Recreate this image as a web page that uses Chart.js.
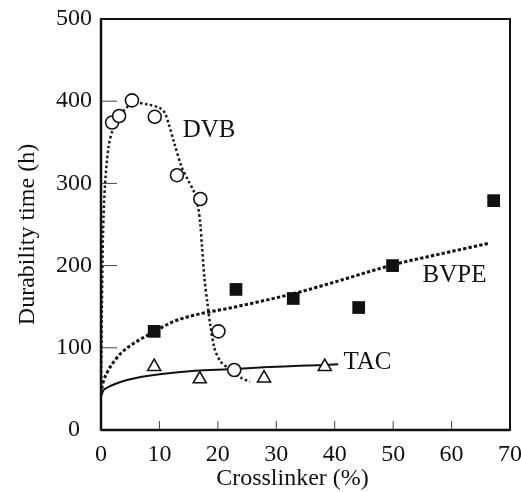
<!DOCTYPE html>
<html>
<head>
<meta charset="utf-8">
<script src="https://cdn.jsdelivr.net/npm/chart.js@4"></script>
<style>
html, body { margin: 0; padding: 0; background: #fff; }
</style>
</head>
<body>
<canvas id="chart" width="521" height="492"></canvas>
<script>
// axis ticks
const xTicks = [0, 10, 20, 30, 40, 50, 60, 70];
const yTicks = [0, 100, 200, 300, 400, 500];
const seriesNames = ["DVB", "BVPE", "TAC"];

// measured points
const dvbX = [1.9, 3.1, 5.3, 9.2, 13.0, 17.0, 20.1, 22.8];
const dvbY = [374, 382, 401, 381, 310, 281, 120, 73];
const bvpeX = [9.1, 23.1, 32.9, 44.1, 49.9, 67.2];
const bvpeY = [120, 171, 160, 149, 200, 279];
const tacX = [9.1, 16.9, 27.9, 38.3];
const tacY = [77, 62, 63, 77];

// hand-drawn trend curves
const dvbCurveX = [0, 0.15, 0.35, 0.7, 1.3, 2, 3, 4.5, 6, 8, 10, 10.9, 11.6, 12.5, 13.8, 14.9, 15.9, 16.6, 17.0, 17.3, 17.7, 18.2, 18.7, 19.4, 20.4, 22, 24.1, 25.5];
const dvbCurveY = [45, 150, 240, 300, 345, 365, 380, 393, 398, 396, 392, 386, 372, 350, 320, 304, 290, 272, 250, 222, 185, 155, 128, 100, 84, 74, 63, 59];
const bvpeCurveX = [0.1, 0.4, 1.2, 2.4, 3.5, 4.7, 6.4, 9, 12.1, 16.1, 21.8, 27, 33, 40, 50, 58.6, 66.3];
const bvpeCurveY = [50, 59, 72, 85, 94, 101, 109, 119, 131, 140, 148, 156, 166, 180, 201, 215, 227];
const tacCurveX = [0, 0.4, 1.2, 2.4, 4, 5.8, 10.4, 16.1, 21.8, 27.2, 33, 38.3, 40.6];
const tacCurveY = [41, 48, 52, 56, 60, 63, 68, 72, 74, 76, 78, 79, 80];

// where the series names sit, in data units
const nameX = [18.5, 60.5, 45.6];
const nameY = [364, 188, 82];

const pts = (xs, ys) => xs.map((v, i) => ({ x: v, y: ys[i] }));
const serif = '"Liberation Serif", "Times New Roman", serif';

const decor = {
    id: "decor",
    afterDraw(chart) {
        const { ctx, chartArea: a, scales: { x, y } } = chart;
        ctx.save();
        const line = (x1, y1, x2, y2) => {
            ctx.beginPath();
            ctx.moveTo(x1, y1);
            ctx.lineTo(x2, y2);
            ctx.stroke();
        };
        // inward ticks
        ctx.strokeStyle = "#444";
        ctx.lineWidth = 1;
        xTicks.forEach(v => {
            const px = x.getPixelForValue(v);
            line(px, a.bottom, px, a.bottom - 9);
        });
        yTicks.forEach(v => {
            const py = y.getPixelForValue(v);
            line(a.left, py, a.left + 16, py);
        });
        // frame
        ctx.strokeStyle = "#111";
        ctx.lineWidth = 2;
        ctx.strokeRect(a.left, a.top, a.right - a.left, a.bottom - a.top);
        ctx.lineWidth = 2.5;
        line(a.left, a.top, a.left, a.bottom);
        line(a.left, a.bottom, a.right, a.bottom);

        ctx.fillStyle = "#111";
        ctx.textAlign = "center";
        ctx.textBaseline = "middle";
        ctx.font = "25px " + serif;
        seriesNames.forEach((n, i) => {
            ctx.fillText(n, x.getPixelForValue(nameX[i]), y.getPixelForValue(nameY[i]));
        });

        // axis titles
        ctx.font = "24px " + serif;
        ctx.fillText("Crosslinker (%)", (a.left + a.right) / 2 - 13, 479);
        ctx.translate(28, (a.top + a.bottom) / 2 + 10);
        ctx.rotate(-Math.PI / 2);
        ctx.fillText("Durability time (h)", 0, 0);
        ctx.restore();
    }
};

const ctx = document.getElementById("chart").getContext("2d");
new Chart(ctx, {
    type: "scatter",
    data: {
        datasets: [
            {
                label: "DVB",
                data: pts(dvbX, dvbY),
                pointStyle: "circle",
                pointRadius: 6.5,
                pointBorderWidth: 1.6,
                pointBackgroundColor: "#fff",
                pointBorderColor: "#111"
            },
            {
                label: "BVPE",
                data: pts(bvpeX, bvpeY),
                pointStyle: "rect",
                pointRadius: 9,
                pointBorderWidth: 0,
                pointBackgroundColor: "#111",
                pointBorderColor: "#111"
            },
            {
                label: "TAC",
                data: pts(tacX, tacY),
                pointStyle: "triangle",
                pointRadius: 7.5,
                pointBorderWidth: 1.6,
                pointBackgroundColor: "#fff",
                pointBorderColor: "#111"
            },
            {
                label: "DVB fit",
                data: pts(dvbCurveX, dvbCurveY),
                showLine: true,
                pointRadius: 0,
                borderColor: "#1a1a1a",
                borderWidth: 2.5,
                borderDash: [2.5, 2.5],
                tension: 0.3
            },
            {
                label: "BVPE fit",
                data: pts(bvpeCurveX, bvpeCurveY),
                showLine: true,
                pointRadius: 0,
                borderColor: "#111",
                borderWidth: 3,
                borderDash: [3.3, 2.2],
                cubicInterpolationMode: "monotone"
            },
            {
                label: "TAC fit",
                data: pts(tacCurveX, tacCurveY),
                showLine: true,
                pointRadius: 0,
                borderColor: "#111",
                borderWidth: 2,
                cubicInterpolationMode: "monotone"
            }
        ]
    },
    options: {
        responsive: false,
        animation: false,
        devicePixelRatio: 1,
        layout: { padding: { top: 19, right: 11, left: 0, bottom: 0 } },
        plugins: {
            legend: { display: false },
            tooltip: { enabled: false }
        },
        scales: {
            x: {
                type: "linear",
                min: 0,
                max: 70,
                afterBuildTicks: s => { s.ticks = xTicks.map(v => ({ value: v })); },
                afterFit: s => { s.height = 62; s.paddingLeft = 0; s.paddingRight = 0; },
                grid: { display: false, drawTicks: false },
                border: { display: false },
                ticks: { color: "#111", padding: 10, maxRotation: 0, font: { family: serif, size: 24 } }
            },
            y: {
                type: "linear",
                min: 0,
                max: 500,
                afterBuildTicks: s => { s.ticks = yTicks.map(v => ({ value: v })); },
                afterFit: s => { s.width = 101; s.paddingTop = 0; s.paddingBottom = 0; },
                grid: { display: false, drawTicks: false },
                border: { display: false },
                ticks: { color: "#111", padding: 9, crossAlign: "center", font: { family: serif, size: 24 } }
            }
        }
    },
    plugins: [decor]
});
</script>
</body>
</html>
